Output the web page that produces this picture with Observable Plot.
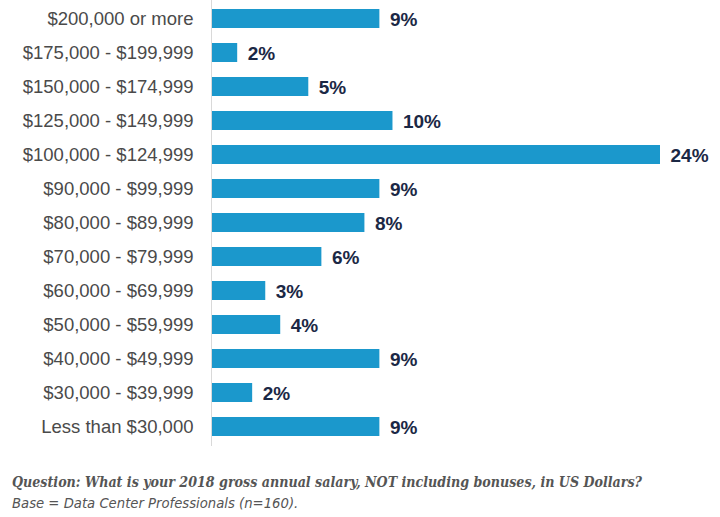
<!DOCTYPE html>
<html>
<head>
<meta charset="utf-8">
<script src="https://cdn.jsdelivr.net/npm/d3@7"></script>
<script src="https://cdn.jsdelivr.net/npm/@observablehq/plot@0.6"></script>
<style>
  html, body { margin: 0; padding: 0; background: #fff; }
  #chart { position: absolute; left: 0; top: 0; }
  .note { position: absolute; left: 12px; color: #555; white-space: nowrap; }
  #q { top: 474px; line-height: 16px; font-family: "DejaVu Serif Condensed", "DejaVu Serif", serif; font-weight: bold; font-style: italic; font-size: 14.1px; }
  #b { top: 494px; line-height: 17px; font-family: "Liberation Sans Narrow", "DejaVu Sans Condensed", sans-serif; font-style: italic; font-size: 14.7px; }
</style>
</head>
<body>
<div id="chart"></div>
<div class="note" id="q">Question: What is your 2018 gross annual salary, NOT including bonuses, in US Dollars?</div>
<div class="note" id="b">Base = Data Center Professionals (n=160).</div>
<script>
const categories = [
  "$200,000 or more",
  "$175,000 - $199,999",
  "$150,000 - $174,999",
  "$125,000 - $149,999",
  "$100,000 - $124,999",
  "$90,000 - $99,999",
  "$80,000 - $89,999",
  "$70,000 - $79,999",
  "$60,000 - $69,999",
  "$50,000 - $59,999",
  "$40,000 - $49,999",
  "$30,000 - $39,999",
  "Less than $30,000"
];
// bar lengths as drawn (percent)
const barValues = [9.0, 1.4, 5.2, 9.7, 24.0, 9.0, 8.2, 5.9, 2.9, 3.7, 9.0, 2.2, 9.0];
// printed labels (percent)
const labelValues = [9, 2, 5, 10, 24, 9, 8, 6, 3, 4, 9, 2, 9];

const data = categories.map((c, i) => ({cat: c, v: barValues[i], label: labelValues[i] + "%"}));

const chart = Plot.plot({
  width: 720,
  height: 446,
  marginLeft: 211,
  marginRight: 60,
  marginTop: 0,
  marginBottom: 0,
  style: {fontFamily: "'Liberation Sans', Arial, sans-serif", color: "#4a4a4a", background: "white"},
  x: {domain: [0, 24], axis: null},
  y: {domain: categories, paddingInner: 0.43, paddingOuter: 0.215, label: null},
  marks: [
    Plot.axisY({tickSize: 0, tickPadding: 18, fontSize: 18.5, label: null, fill: "#4a4a4a"}),
    Plot.barX(data, {y: "cat", x: "v", fill: "#1b98cc"}),
    Plot.ruleX([0], {stroke: "#d9d9d9", strokeWidth: 1}),
    Plot.text(data, {y: "cat", x: "v", text: "label", textAnchor: "start", dx: 10, dy: 1, fontSize: 19, fontWeight: "bold", fill: "#1b2845"})
  ]
});
document.getElementById("chart").appendChild(chart);
</script>
</body>
</html>
